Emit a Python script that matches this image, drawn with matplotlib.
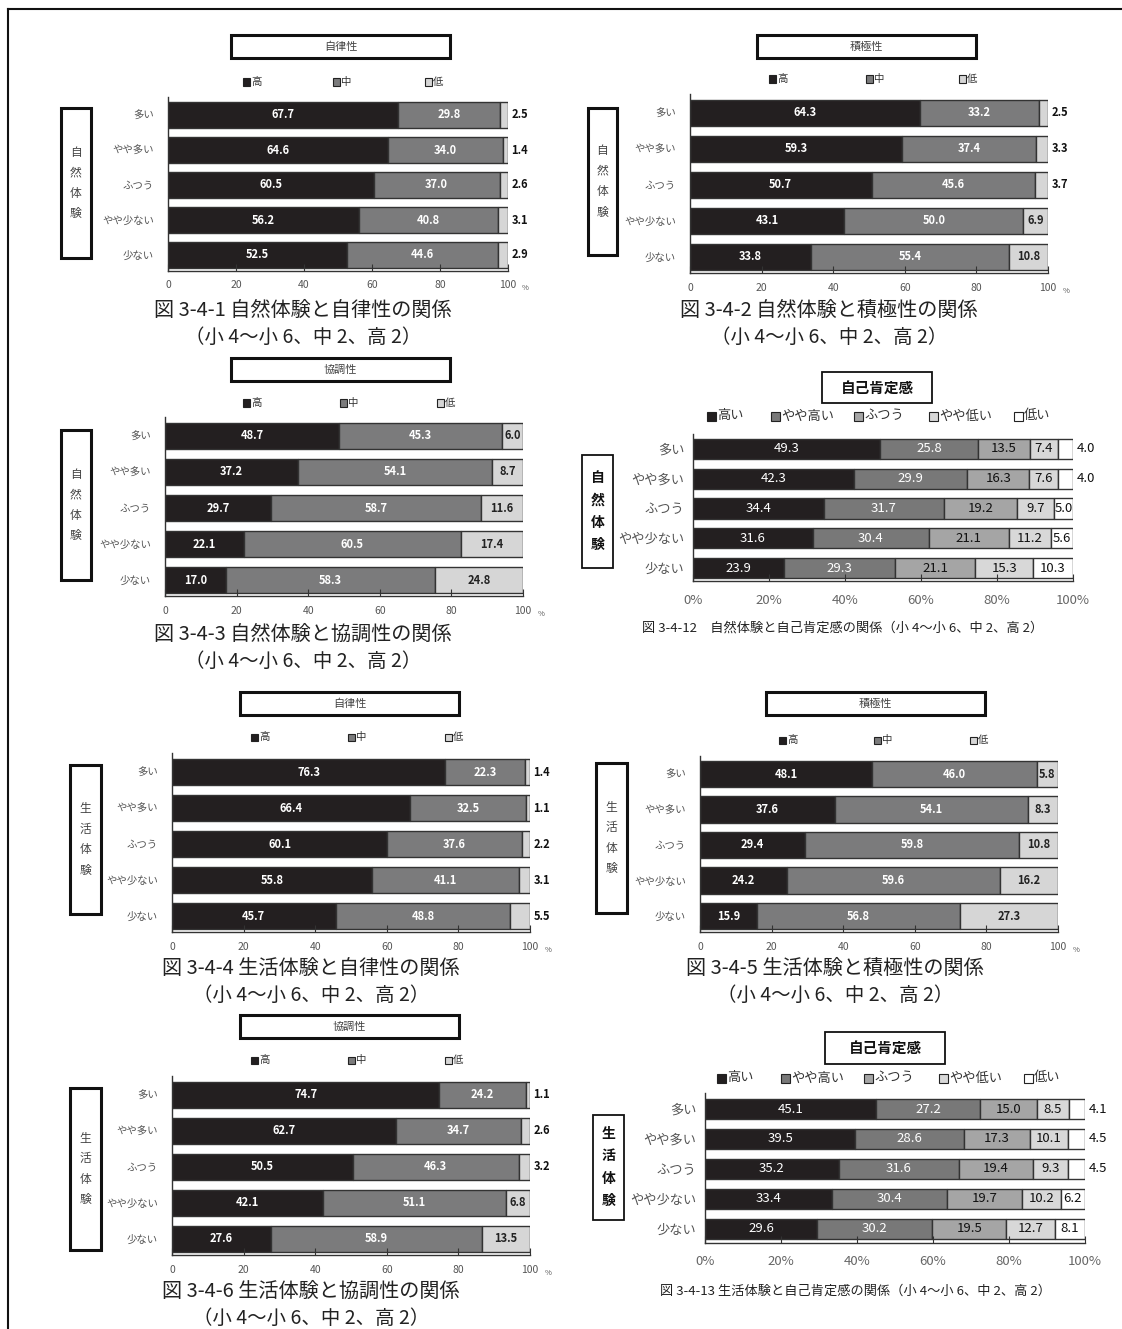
import matplotlib
matplotlib.use("Agg")
import matplotlib.pyplot as plt
from matplotlib.patches import Rectangle
from matplotlib.lines import Line2D

plt.rcParams['font.family'] = ['Noto Sans CJK JP', 'DejaVu Sans']

W, H = 1122, 1329

# ---- data ----
rows = ['多い', 'やや多い', 'ふつう', 'やや少ない', '少ない']
lv3 = ['高', '中', '低']
lv5 = ['高い', 'やや高い', 'ふつう', 'やや低い', '低い']

# 自然体験 x 自律性
nat_jiritsu_hi = [67.7, 64.6, 60.5, 56.2, 52.5]
nat_jiritsu_mid = [29.8, 34.0, 37.0, 40.8, 44.6]
nat_jiritsu_lo = [2.5, 1.4, 2.6, 3.1, 2.9]
# 自然体験 x 積極性
nat_sekkyoku_hi = [64.3, 59.3, 50.7, 43.1, 33.8]
nat_sekkyoku_mid = [33.2, 37.4, 45.6, 50.0, 55.4]
nat_sekkyoku_lo = [2.5, 3.3, 3.7, 6.9, 10.8]
# 自然体験 x 協調性
nat_kyocho_hi = [48.7, 37.2, 29.7, 22.1, 17.0]
nat_kyocho_mid = [45.3, 54.1, 58.7, 60.5, 58.3]
nat_kyocho_lo = [6.0, 8.7, 11.6, 17.4, 24.8]
# 生活体験 x 自律性
life_jiritsu_hi = [76.3, 66.4, 60.1, 55.8, 45.7]
life_jiritsu_mid = [22.3, 32.5, 37.6, 41.1, 48.8]
life_jiritsu_lo = [1.4, 1.1, 2.2, 3.1, 5.5]
# 生活体験 x 積極性
life_sekkyoku_hi = [48.1, 37.6, 29.4, 24.2, 15.9]
life_sekkyoku_mid = [46.0, 54.1, 59.8, 59.6, 56.8]
life_sekkyoku_lo = [5.8, 8.3, 10.8, 16.2, 27.3]
# 生活体験 x 協調性
life_kyocho_hi = [74.7, 62.7, 50.5, 42.1, 27.6]
life_kyocho_mid = [24.2, 34.7, 46.3, 51.1, 58.9]
life_kyocho_lo = [1.1, 2.6, 3.2, 6.8, 13.5]
# 自己肯定感
nat_self = [[49.3, 42.3, 34.4, 31.6, 23.9],
            [25.8, 29.9, 31.7, 30.4, 29.3],
            [13.5, 16.3, 19.2, 21.1, 21.1],
            [7.4, 7.6, 9.7, 11.2, 15.3],
            [4.0, 4.0, 5.0, 5.6, 10.3]]
life_self = [[45.1, 39.5, 35.2, 33.4, 29.6],
             [27.2, 28.6, 31.6, 30.4, 30.2],
             [15.0, 17.3, 19.4, 19.7, 19.5],
             [8.5, 10.1, 9.3, 10.2, 12.7],
             [4.1, 4.5, 4.5, 6.2, 8.1]]

c3 = ['#231f20', '#7b7b7c', '#d6d6d6']
c5 = ['#231f20', '#787878', '#a5a5a5', '#d8d8d8', '#ffffff']

fig = plt.figure(figsize=(W / 100, H / 100), dpi=100)


def fx(x):
    return x / W


def fy(y):
    return 1 - y / H


def box(x0, y0, x1, y1, lw=2.0):
    fig.patches.append(Rectangle((fx(x0), fy(y1)), fx(x1) - fx(x0), fy(y0) - fy(y1),
                                 transform=fig.transFigure, fill=False,
                                 edgecolor='#111111', linewidth=lw))


def side_box(x0, y0, x1, y1, text, big=False):
    box(x0, y0, x1, y1, lw=1.3 if big else 2.2)
    fig.text(fx((x0 + x1) / 2), fy((y0 + y1) / 2), '\n'.join(text),
             ha='center', va='center', fontsize=10 if big else 8.5,
             fontweight='bold' if big else 'normal',
             color='#111111' if big else '#444444', linespacing=1.75 if big else 1.75)


def legend(y, xs, labels, colors, fs):
    for x, lab, col in zip(xs, labels, colors):
        s = 7 if fs < 8 else 9
        fig.patches.append(Rectangle((fx(x), fy(y + s / 2)), s / W, s / H,
                                     transform=fig.transFigure, facecolor=col,
                                     edgecolor='#222222', linewidth=0.8))
        fig.text(fx(x + s + 1), fy(y), lab, ha='left', va='center',
                 fontsize=fs, color='#333333')


def chart(x0, x1, yc0, yc4, series, colors, big=False):
    s = (yc4 - yc0) / 4
    top = yc0 - 0.52 * s
    bot = yc4 + 0.45 * s
    ax = fig.add_axes([fx(x0), fy(bot), fx(x1) - fx(x0), fy(top) - fy(bot)])
    n = len(series)
    left = [0.0] * 5
    bh = 0.68 if big else 0.74
    for k, vals in enumerate(series):
        ax.barh(range(5), vals, left=left, height=bh, color=colors[k],
                edgecolor='#333333', linewidth=1.0)
        for i, v in enumerate(vals):
            last = k == n - 1
            thr = 4.8 if big else 5.7
            if big:
                fs, fw = 9.5, 'normal'
                col = 'white' if k < 2 else '#111111'
            else:
                fs, fw = 8, 'bold'
                col = 'white' if k < 2 else '#222222'
            if last and v < thr:
                ax.text(101, i, f'{v:.1f}', ha='left', va='center', fontsize=fs,
                        fontweight=fw, color='#111111', clip_on=False)
            else:
                ax.text(left[i] + v / 2, i, f'{v:.1f}', ha='center', va='center',
                        fontsize=fs, fontweight=fw, color=col)
        left = [a + b for a, b in zip(left, vals)]
    ax.set_xlim(0, 100)
    ax.set_ylim(4.45, -0.52)
    ax.set_yticks(range(5))
    ax.set_yticks(range(5))
    ax.set_xticks(range(0, 101, 20))
    if big:
        ax.set_yticklabels(rows, fontsize=9.5, color='#555555')
        ax.tick_params(axis='y', length=0, pad=6)
        ax.set_xticklabels([f'{t}%' for t in range(0, 101, 20)], fontsize=9.5, color='#666666')
        ax.tick_params(axis='x', pad=9)
    else:
        ax.set_yticklabels(rows, fontsize=7.5, color='#555555')
        ax.tick_params(axis='y', length=0, pad=10)
        ax.set_xticklabels([str(t) for t in range(0, 101, 20)], fontsize=7.5, color='#555555')
        ax.text(104, -0.1, '%', transform=ax.get_xaxis_transform(), fontsize=5.5,
                color='#555555', va='center', ha='left')
        ax.tick_params(axis='x', pad=7)
    ax.tick_params(axis='x', direction='in', length=5, width=0.8, color='#333333')
    for sp in ['top', 'right']:
        ax.spines[sp].set_visible(False)
    for sp in ['left', 'bottom']:
        ax.spines[sp].set_color('#333333')
        ax.spines[sp].set_linewidth(1.0)
    return ax


def title_box(x0, y0, x1, y1, text, big=False):
    box(x0, y0, x1, y1, lw=1.3 if big else 2.2)
    fig.text(fx((x0 + x1) / 2), fy((y0 + y1) / 2), text, ha='center', va='center',
             fontsize=10.5 if big else 8, fontweight='bold' if big else 'normal',
             color='#111111' if big else '#444444')


def caption(xc, y, line1, line2):
    fig.text(fx(xc), fy(y), line1, ha='center', va='center', fontsize=14.5, color='#222222')
    fig.text(fx(xc), fy(y + 27), line2, ha='center', va='center', fontsize=14, color='#222222')


sub = '（小 4～小 6、中 2、高 2）'

# outer frame
fig.add_artist(Line2D([fx(8), fx(8)], [fy(9), 0], transform=fig.transFigure, color='#111111', lw=1.5))
fig.add_artist(Line2D([fx(8), 1], [fy(9), fy(9)], transform=fig.transFigure, color='#111111', lw=1.5))

# panel 3-4-1
title_box(231, 35, 450, 58, '自律性')
legend(82, [243, 333, 425], lv3, c3, 7.5)
side_box(61, 108, 91, 258, '自然体験')
chart(168, 508, 115, 255, [nat_jiritsu_hi, nat_jiritsu_mid, nat_jiritsu_lo], c3)
caption(303, 310, '図 3-4-1 自然体験と自律性の関係', sub)

# panel 3-4-2
title_box(757, 35, 976, 58, '積極性')
legend(79, [769, 866, 959], lv3, c3, 7.5)
side_box(588, 108, 617, 255, '自然体験')
chart(690, 1048, 113, 257, [nat_sekkyoku_hi, nat_sekkyoku_mid, nat_sekkyoku_lo], c3)
caption(829, 310, '図 3-4-2 自然体験と積極性の関係', sub)

# panel 3-4-3
title_box(231, 358, 450, 381, '協調性')
legend(403, [243, 340, 437], lv3, c3, 7.5)
side_box(61, 430, 91, 580, '自然体験')
chart(165, 523, 436, 580, [nat_kyocho_hi, nat_kyocho_mid, nat_kyocho_lo], c3)
caption(303, 634, '図 3-4-3 自然体験と協調性の関係', sub)

# panel 3-4-12
title_box(822, 372, 932, 403, '自己肯定感', big=True)
legend(416, [707, 771, 854, 929, 1014], lv5, c5, 9.5)
side_box(582, 455, 613, 568, '自然体験', big=True)
chart(693, 1073, 449, 568, nat_self, c5, big=True)
fig.text(fx(843), fy(628), '図 3-4-12　自然体験と自己肯定感の関係（小 4～小 6、中 2、高 2）',
         ha='center', va='center', fontsize=9.5, color='#222222')

# panel 3-4-4
title_box(240, 692, 459, 715, '自律性')
legend(737, [251, 348, 445], lv3, c3, 7.5)
side_box(70, 765, 101, 914, '生活体験')
chart(172, 530, 772, 916, [life_jiritsu_hi, life_jiritsu_mid, life_jiritsu_lo], c3)
caption(311, 968, '図 3-4-4 生活体験と自律性の関係', sub)

# panel 3-4-5
title_box(766, 692, 985, 715, '積極性')
legend(740, [779, 874, 970], lv3, c3, 7.5)
side_box(596, 763, 627, 913, '生活体験')
chart(700, 1058, 774, 916, [life_sekkyoku_hi, life_sekkyoku_mid, life_sekkyoku_lo], c3)
caption(835, 968, '図 3-4-5 生活体験と積極性の関係', sub)

# panel 3-4-6
title_box(240, 1015, 459, 1038, '協調性')
legend(1060, [251, 348, 445], lv3, c3, 7.5)
side_box(70, 1088, 101, 1250, '生活体験')
chart(172, 530, 1095, 1239, [life_kyocho_hi, life_kyocho_mid, life_kyocho_lo], c3)
caption(311, 1291, '図 3-4-6 生活体験と協調性の関係', sub)

# panel 3-4-13
title_box(825, 1032, 945, 1064, '自己肯定感', big=True)
legend(1078, [717, 781, 864, 939, 1024], lv5, c5, 9.5)
side_box(593, 1115, 624, 1220, '生活体験', big=True)
chart(705, 1085, 1109, 1229, life_self, c5, big=True)
fig.text(fx(855), fy(1291), '図 3-4-13 生活体験と自己肯定感の関係（小 4～小 6、中 2、高 2）',
         ha='center', va='center', fontsize=9.5, color='#222222')

fig.savefig('out.png', dpi=100)
